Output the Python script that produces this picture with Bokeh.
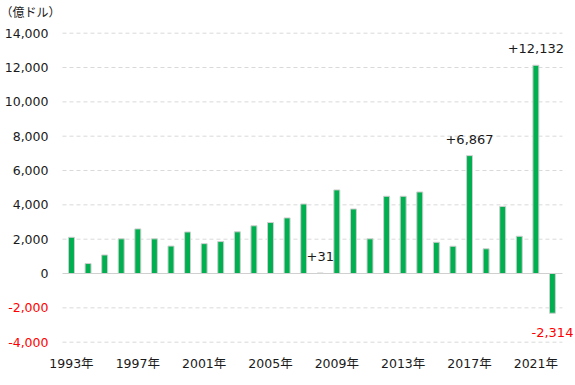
from bokeh.plotting import figure
from bokeh.models import Range1d, FixedTicker, Label, ColumnDataSource
from bokeh.embed import file_html
from bokeh.resources import INLINE

years = list(range(1993, 2023))
values = [2110, 580, 1080, 2020, 2600, 2020, 1600, 2420, 1740, 1860,
          2430, 2780, 2970, 3240, 4050, 31, 4870, 3760, 2020, 4500,
          4500, 4750, 1820, 1590, 6867, 1440, 3910, 2170, 12132, -2314]
y_ticks = [-4000, -2000, 0, 2000, 4000, 6000, 8000, 10000, 12000, 14000]
x_ticks = [1993, 1997, 2001, 2005, 2009, 2013, 2017, 2021]
x_labels = {y: f"{y}年" for y in x_ticks}
callout_years = [2008, 2017, 2021]
callout_text = ["+31", "+6,867", "+12,132"]
neg_year = 2022
neg_text = "-2,314"
unit_text = "（億ドル）"

FONT = "DejaVu Sans, Noto Sans CJK JP"
TXT = "#1a1a1a"

# layout: the frame covers the whole canvas width; the plotting area is a sub-range
X0, X1 = 1988.72, 2023.39        # frame range
PX0, PX1 = 1992.457, 2022.603    # plotting area (grid extent)
Y0, Y1 = -4485, 15905

p = figure(width=575, height=385, output_backend="svg", toolbar_location=None,
           x_range=Range1d(X0, X1), y_range=Range1d(Y0, Y1),
           min_border_left=0, min_border_right=0, min_border_top=0, min_border_bottom=35)
p.outline_line_color = None
p.xgrid.grid_line_color = None
p.ygrid.grid_line_color = None
p.yaxis.visible = False

grid_y = [t for t in y_ticks if t != 0]
p.segment(x0=[PX0] * len(grid_y), x1=[PX1] * len(grid_y), y0=grid_y, y1=grid_y,
          line_color="#d9d9d9", line_width=1, line_dash="4 3")

src = ColumnDataSource(dict(x=years, top=values))
p.vbar(x="x", top="top", bottom=0, width=0.36, source=src,
       fill_color="#00B050", line_color="#cfcfcf", line_width=1)

p.segment(x0=[PX0], x1=[PX1], y0=[0], y1=[0], line_color="#d0d0d0", line_width=1.2)

for t in y_ticks:
    p.add_layout(Label(x=PX0, y=t, x_offset=-14, text=f"{t:,}", text_align="right",
                       text_baseline="middle", text_color="#ff0000" if t < 0 else TXT,
                       text_font=FONT, text_font_size="12.5px"))

p.xaxis.ticker = FixedTicker(ticks=x_ticks)
p.xaxis.major_label_overrides = x_labels
p.xaxis.axis_line_color = None
p.xaxis.major_tick_line_color = None
p.xaxis.minor_tick_line_color = None
p.xaxis.major_tick_out = 0
p.xaxis.major_label_standoff = 5
p.xaxis.major_label_text_font = FONT
p.xaxis.major_label_text_font_size = "12.5px"
p.xaxis.major_label_text_color = TXT

for yr, txt in zip(callout_years, callout_text):
    v = values[years.index(yr)]
    p.add_layout(Label(x=yr, y=v, y_offset=12, text=txt, text_align="center",
                       text_baseline="bottom", text_color=TXT,
                       text_font=FONT, text_font_size="13px"))
nv = values[years.index(neg_year)]
p.add_layout(Label(x=neg_year, y=nv, y_offset=-15, text=neg_text,
                   text_align="center", text_baseline="top", text_color="#ff0000",
                   text_font=FONT, text_font_size="13px"))

p.add_layout(Label(x=X0, y=Y1, x_offset=0, y_offset=-12, text=unit_text,
                   text_align="left", text_baseline="middle", text_color=TXT,
                   text_font=FONT, text_font_size="12px"))

open("out.html", "w").write(file_html(p, INLINE))
